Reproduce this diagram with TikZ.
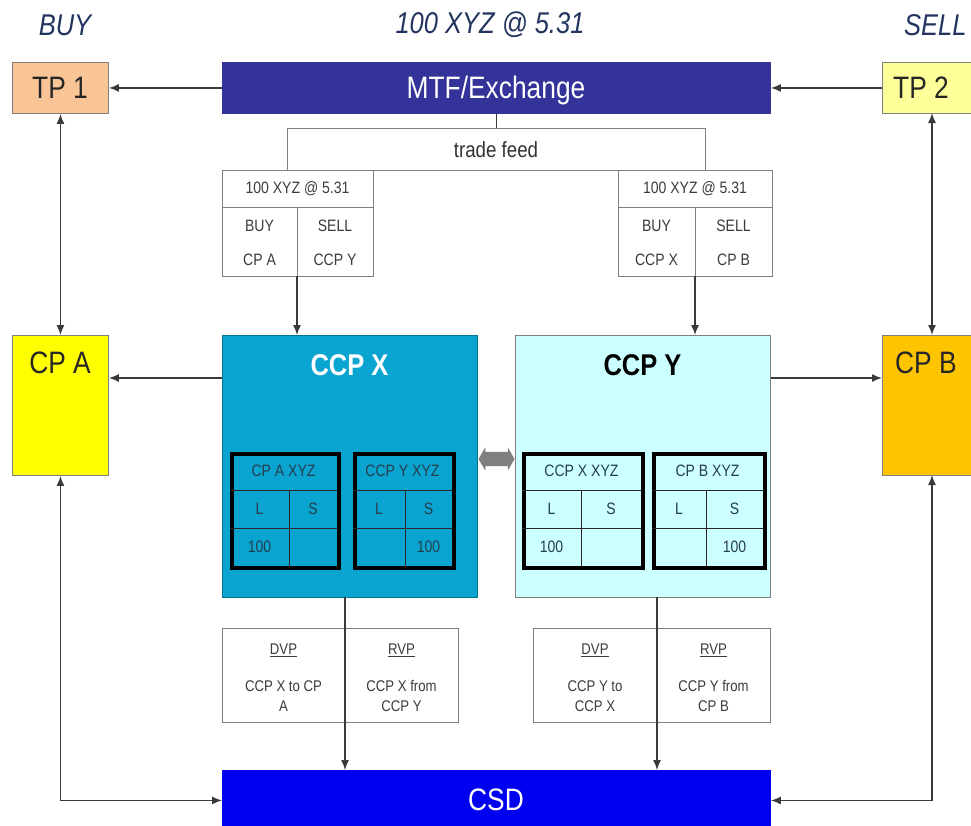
\documentclass[tikz,border=0pt]{standalone}
\usepackage{fontspec}
\setmainfont{Liberation Sans}[FakeStretch=0.85]
\usetikzlibrary{arrows.meta,shapes.arrows,calc}
\definecolor{hdr}{HTML}{22345F}
\definecolor{tpone}{HTML}{F9C596}
\definecolor{tptwo}{HTML}{FFFF99}
\definecolor{mtfblue}{HTML}{333399}
\definecolor{ccpxblue}{HTML}{0AA4D0}
\definecolor{ccpylight}{HTML}{CCFFFF}
\definecolor{cpayellow}{HTML}{FFFF00}
\definecolor{cpborange}{HTML}{FFC400}
\definecolor{csdblue}{HTML}{0000F0}
\definecolor{boxgray}{HTML}{7F7F7F}
\definecolor{linegray}{HTML}{3A3A3A}
\definecolor{tabtext}{HTML}{3C3C3C}
\definecolor{innertext}{HTML}{263E4C}
\newcommand\postab[7]{%
  \node[postabbox, minimum width={#3-#2}] (#1) at (#2,452) {};
  \draw[tabgrid] (#2,490) -- (#3,490) (#2,528) -- (#3,528) (#4,490) -- (#4,566);
  \node[inner] (#1-t) at ({(#2+#3)/2},471) {#5};
  \node[inner] (#1-l) at ({(#2+#4)/2},509) {L};
  \node[inner] (#1-s) at ({(#4+#3)/2},509) {S};
  \node[inner] (#1-lv) at ({(#2+#4)/2},547) {#6};
  \node[inner] (#1-sv) at ({(#4+#3)/2},547) {#7};
}
\begin{document}
\begin{tikzpicture}[x=1pt,y=-1pt,
  box/.style={draw=boxgray, line width=0.9pt, anchor=north west, inner sep=0pt},
  arr/.style={draw=linegray, line width=1.4pt, -{Latex[length=10pt,width=8pt]}},
  darr/.style={draw=linegray, line width=1.4pt, {Latex[length=10pt,width=8pt]}-{Latex[length=10pt,width=8pt]}},
  plain/.style={draw=linegray, line width=1pt},
  toptxt/.style={font=\fontsize{30}{34}\selectfont\itshape, text=hdr, inner sep=0pt},
  bigtxt/.style={font=\fontsize{31}{35}\selectfont, inner sep=0pt},
  tabtxt/.style={font=\fontsize{16.5}{19}\selectfont, text=tabtext, inner sep=0pt},
  dvptxt/.style={font=\fontsize{15.5}{20}\selectfont, text=tabtext, inner sep=0pt, align=center},
  title/.style={font=\fontsize{30}{34}\selectfont\bfseries, inner sep=0pt},
  inner/.style={font=\fontsize{16.5}{19}\selectfont, text=innertext, inner sep=0pt},
  postabbox/.style={draw=black, line width=3.5pt, anchor=north west, inner sep=0pt, minimum height=114},
  tabgrid/.style={draw=black!85, line width=0.8pt}]
\useasboundingbox (0,0) rectangle (971,825);
\fill[white] (0,0) rectangle (971,825);

% header texts
\node[toptxt] (buy) at (65,25) {BUY};
\node[toptxt] (deal) at (490,25) {100 XYZ @ 5.31};
\node[toptxt, anchor=west] (sell) at (904,25) {SELL};

% top row
\node[box, fill=tpone, minimum width=96, minimum height=51] (tp1) at (12,62) {};
\node[bigtxt, text=black!85] (tp1t) at (60,88) {TP 1};
\node[box, draw=mtfblue, fill=mtfblue, minimum width=548, minimum height=51] (mtf) at (222,62) {};
\node[bigtxt, text=white] (mtft) at (496,90) {MTF/Exchange};
\node[box, fill=tptwo, minimum width=110, minimum height=51] (tp2) at (882,62) {};
\node[bigtxt, text=black!85, anchor=west] (tp2t) at (893,88) {TP 2};

% trade feed
\node[box, fill=white, minimum width=418, minimum height=42] (feed) at (287,128) {};
\node[font=\fontsize{22}{26}\selectfont, text=black!80, inner sep=0pt] (feedt) at (496,150) {trade feed};

% trade tables
\node[box, fill=white, minimum width=151, minimum height=106] (ltab) at (222,170) {};
\draw[draw=boxgray, line width=0.9pt] (222,207) -- (373,207) (297,207) -- (297,276);
\node[tabtxt] (ltabh) at (297.5,189) {100 XYZ @ 5.31};
\node[tabtxt] (ltab1) at (259.5,226) {BUY};
\node[tabtxt] (ltab2) at (335,226) {SELL};
\node[tabtxt] (ltab3) at (259.5,260) {CP A};
\node[tabtxt] (ltab4) at (335,260) {CCP Y};

\node[box, fill=white, minimum width=154, minimum height=106] (rtab) at (618,170) {};
\draw[draw=boxgray, line width=0.9pt] (618,207) -- (772,207) (695,207) -- (695,276);
\node[tabtxt] (rtabh) at (695,189) {100 XYZ @ 5.31};
\node[tabtxt] (rtab1) at (656.5,226) {BUY};
\node[tabtxt] (rtab2) at (733.5,226) {SELL};
\node[tabtxt] (rtab3) at (656.5,260) {CCP X};
\node[tabtxt] (rtab4) at (733.5,260) {CP B};

% CCP boxes
\node[box, draw=ccpxblue!70!black, fill=ccpxblue, minimum width=255, minimum height=262] (ccpx) at (222,335) {};
\node[title, text=white] (ccpxt) at (349.5,365) {CCP X};
\node[box, fill=ccpylight, minimum width=255, minimum height=262] (ccpy) at (515,335) {};
\node[title, text=black] (ccpyt) at (642.5,365) {CCP Y};

% position tables
\postab{pa}{230}{337}{289}{CP A XYZ}{100}{}
\postab{py}{353}{452}{405}{CCP Y XYZ}{}{100}
\postab{px}{522}{641}{581}{CCP X XYZ}{100}{}
\postab{pb}{652}{763}{706}{CP B XYZ}{}{100}

% link between CCPs
\node[double arrow, fill=boxgray, draw=none, minimum height=36pt, minimum width=23pt,
      inner xsep=0pt, inner ysep=7pt, double arrow head extend=4.5pt, double arrow tip angle=120] (link) at (496.5,459) {};

% CP boxes
\node[box, fill=cpayellow, minimum width=96, minimum height=140] (cpa) at (12,335) {};
\node[bigtxt, text=black!85] (cpat) at (60,363) {CP A};
\node[box, fill=cpborange, minimum width=110, minimum height=140] (cpb) at (882,335) {};
\node[bigtxt, text=black!85, anchor=west] (cpbt) at (895,363) {CP B};

% DVP/RVP boxes
\node[box, fill=white, minimum width=236, minimum height=94] (dvpx) at (222,628) {};
\node[dvptxt] (dvpx1) at (283.5,650) {\underline{DVP}};
\node[dvptxt] (dvpx2) at (283.5,696) {CCP X to CP\\A};
\node[dvptxt] (dvpx3) at (401.5,650) {\underline{RVP}};
\node[dvptxt] (dvpx4) at (401.5,696) {CCP X from\\CCP Y};
\node[box, fill=white, minimum width=237, minimum height=94] (dvpy) at (533,628) {};
\node[dvptxt] (dvpy1) at (595,650) {\underline{DVP}};
\node[dvptxt] (dvpy2) at (595,696) {CCP Y to\\CCP X};
\node[dvptxt] (dvpy3) at (713.5,650) {\underline{RVP}};
\node[dvptxt] (dvpy4) at (713.5,696) {CCP Y from\\CP B};

% CSD
\node[box, draw=csdblue, fill=csdblue, minimum width=548, minimum height=60] (csd) at (222,770) {};
\node[bigtxt, text=white] (csdt) at (496,800) {CSD};

% connectors
\draw[arr] (mtf) -- (tp1);
\draw[arr] (tp2) -- (mtf);
\draw[plain] (mtf.south) -- (mtf.south |- feed.north);
\coordinate (lt) at (297,276);
\coordinate (rt) at (695,276);
\draw[arr] (lt) -- (lt |- ccpx.north);
\draw[arr] (rt) -- (rt |- ccpy.north);
\coordinate (cxw) at ($(ccpx.north west)+(0,43)$);
\coordinate (cye) at ($(ccpy.north east)+(0,43)$);
\draw[arr] (cxw) -- (cxw -| cpa.east);
\draw[arr] (cye) -- (cye -| cpb.west);
\coordinate (tp2s) at (932,113);
\draw[darr] (tp1) -- (cpa);
\draw[darr] (tp2s) -- (tp2s |- cpb.north);
\draw[darr] (cpa.south) |- (csd.west);
\coordinate (cpbs) at (932,475);
\draw[darr] (cpbs) |- (csd.east);
\coordinate (cxs) at (345,597);
\coordinate (cys) at (657,597);
\draw[arr] (cxs) -- (cxs |- csd.north);
\draw[arr] (cys) -- (cys |- csd.north);
\end{tikzpicture}
\end{document}
